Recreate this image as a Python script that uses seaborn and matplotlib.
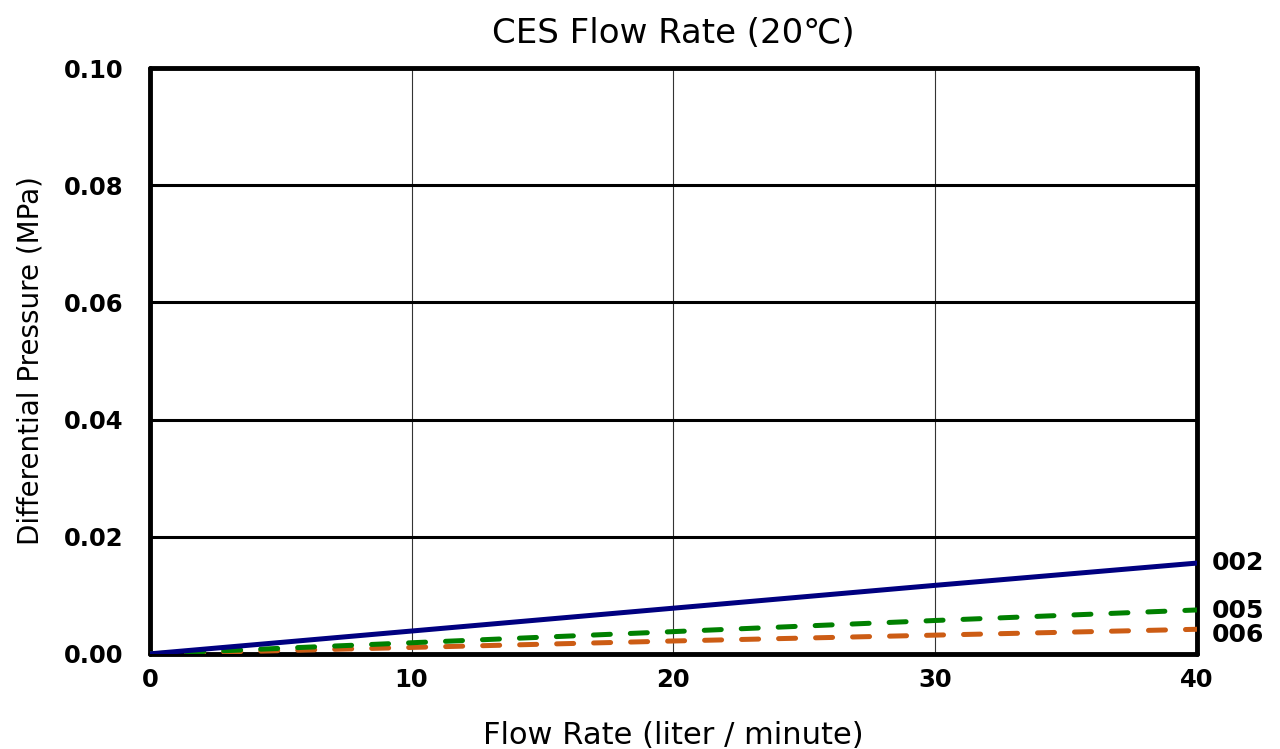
import matplotlib
matplotlib.use("Agg")
import matplotlib.pyplot as plt
import pandas as pd
import seaborn as sns
from matplotlib.ticker import MultipleLocator, FormatStrFormatter

# Data
flow = [0, 10, 20, 30, 40]
dp_002 = [0.0, 0.0039, 0.0078, 0.0117, 0.0155]
dp_005 = [0.0, 0.0019, 0.0038, 0.0057, 0.0075]
dp_006 = [0.0, 0.0011, 0.0022, 0.0032, 0.0042]
base_flow = [10, 20, 30, 40]
base_dp = [0.0, 0.0, 0.0, 0.0]

series = ['002', '005', '006']
colors = {'002': '#000080', '005': '#008000', '006': '#CC5C14'}

df = pd.DataFrame({
    'flow': flow * 3,
    'dp': dp_002 + dp_005 + dp_006,
    'model': ['002'] * 5 + ['005'] * 5 + ['006'] * 5,
})

sns.set_style('white')
plt.rcParams['font.family'] = ['DejaVu Sans', 'Noto Sans CJK JP']
plt.rcParams['text.color'] = 'black'
plt.rcParams['axes.labelcolor'] = 'black'
plt.rcParams['xtick.labelcolor'] = 'black'
plt.rcParams['ytick.labelcolor'] = 'black'

fig, ax = plt.subplots(figsize=(12.8, 7.49), dpi=100)
fig.subplots_adjust(left=0.117, right=0.935, top=0.909, bottom=0.127)

# grid
for x in [10, 20, 30]:
    ax.axvline(x, color='#333333', lw=0.8, zorder=1)
for y in [0.02, 0.04, 0.06, 0.08]:
    ax.axhline(y, color='black', lw=2.2, zorder=1)

ax.plot(base_flow, base_dp, color='#800080', lw=1.2, zorder=2)

dash = (0, (3.4, 4.0))
sns.lineplot(data=df[df.model == '002'], x='flow', y='dp', color=colors['002'],
             lw=3.6, ax=ax, zorder=5)
sns.lineplot(data=df[df.model == '005'], x='flow', y='dp', color=colors['005'],
             lw=3.6, ax=ax, zorder=4, linestyle=dash, dash_capstyle='round')
sns.lineplot(data=df[df.model == '006'], x='flow', y='dp', color=colors['006'],
             lw=3.6, ax=ax, zorder=3, linestyle=dash, dash_capstyle='round')

ax.set_xlim(0, 40)
ax.set_ylim(0, 0.10)
ax.xaxis.set_major_locator(MultipleLocator(10))
ax.xaxis.set_minor_locator(MultipleLocator(5))
ax.yaxis.set_major_locator(MultipleLocator(0.02))
ax.yaxis.set_minor_locator(MultipleLocator(0.01))
ax.yaxis.set_major_formatter(FormatStrFormatter('%.2f'))
ax.tick_params(axis='both', which='both', direction='in', color='black',
               length=4, width=3)
ax.tick_params(axis='both', labelsize=17.5)
ax.tick_params(axis='y', pad=19)
ax.tick_params(axis='x', pad=10)
for lab in ax.get_xticklabels() + ax.get_yticklabels():
    lab.set_fontweight('semibold')

for s in ax.spines.values():
    s.set_visible(True)
    s.set_color('black')
    s.set_linewidth(3.5)
    s.set_capstyle('round')

ax.set_title('CES Flow Rate (20℃)', fontsize=24.5, pad=18)
ax.set_xlabel('Flow Rate (liter / minute)', fontsize=22, labelpad=21)
ax.set_ylabel('Differential Pressure (MPa)', fontsize=20, labelpad=14)

# end labels
label_y = {'002': dp_002[-1], '005': dp_005[-1] - 0.0001, '006': dp_006[-1] - 0.0010}
for m in series:
    ax.annotate(m, xy=(40, label_y[m]), xytext=(11, 0), textcoords='offset points',
                fontsize=18, fontweight='semibold', va='center', ha='left',
                annotation_clip=False)

fig.savefig('out.png', dpi=100)
